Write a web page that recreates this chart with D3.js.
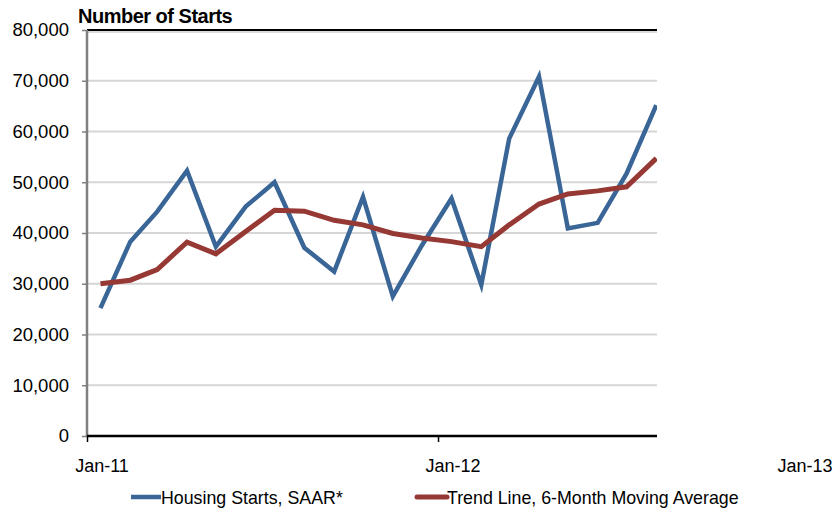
<!DOCTYPE html>
<html>
<head>
<meta charset="utf-8">
<script src="https://cdn.jsdelivr.net/npm/d3@7"></script>
<style>
    body { margin: 0; background: #fff; }
    svg { font-family: "Liberation Sans", Arial, sans-serif; }
</style>
</head>
<body>
<div class="chart"></div>
<script>
// data (mid-month points)
const months = ['2011-01', '2011-02', '2011-03', '2011-04', '2011-05', '2011-06', '2011-07', '2011-08',
    '2011-09', '2011-10', '2011-11', '2011-12', '2012-01', '2012-02', '2012-03', '2012-04',
    '2012-05', '2012-06', '2012-07', '2012-08'];
const housingStarts = [25200, 38300, 44200, 52300, 37300, 45200, 50000, 37100, 32400, 47100,
    27500, 37500, 46800, 29800, 58600, 70800, 40900, 42000, 51700, 65200];
const trendLine = [30000, 30700, 32800, 38200, 35900, 40300, 44500, 44300, 42500, 41600,
    39900, 39000, 38300, 37300, 41600, 45700, 47700, 48300, 49100, 54700];
const seriesNames = ['Housing Starts, SAAR*', 'Trend Line, 6-Month Moving Average'];
const yTicks = [0, 10000, 20000, 30000, 40000, 50000, 60000, 70000, 80000];
const xTicks = ['2011-01-01', '2012-01-01', '2013-01-01'];

const width = 835, height = 513;
const plotLeft = 87, plotTop = 30, plotBottom = 436, plotRight = 657;
const colors = ['#3a6597', '#963834'];

const parse = d3.timeParse('%Y-%m-%d');
const x = d3.scaleTime()
    .domain([parse('2011-01-01'), parse('2013-01-01')])
    .range([plotLeft, 790]);
const y = d3.scaleLinear().domain([0, 80000]).range([plotBottom, plotTop]);

const svg = d3.select('.chart').append('svg')
    .attr('width', width)
    .attr('height', height);

svg.append('defs').append('clipPath').attr('id', 'plot-clip')
    .append('rect')
    .attr('x', plotLeft).attr('y', plotTop - 5)
    .attr('width', plotRight - plotLeft).attr('height', plotBottom - plotTop + 10);

// gridlines
svg.append('g').selectAll('line')
    .data(yTicks.filter(d => d > 0 && d < 80000))
    .join('line')
    .attr('x1', plotLeft).attr('x2', plotRight)
    .attr('y1', d => y(d)).attr('y2', d => y(d))
    .attr('stroke', '#d6d6d6')
    .attr('stroke-width', 2);

// top border
svg.append('line')
    .attr('x1', plotLeft).attr('x2', plotRight)
    .attr('y1', plotTop + 2).attr('y2', plotTop + 2)
    .attr('stroke', '#cfcfcf').attr('stroke-width', 1.5);
svg.append('line')
    .attr('x1', plotLeft).attr('x2', plotRight)
    .attr('y1', plotTop).attr('y2', plotTop)
    .attr('stroke', '#000').attr('stroke-width', 2);

// y axis
const yAxis = svg.append('g')
    .attr('transform', `translate(${plotLeft},0)`)
    .call(d3.axisLeft(y).tickValues(yTicks).tickSize(5).tickPadding(13).tickFormat(d3.format(',')));
yAxis.select('.domain').attr('stroke', '#808080').attr('stroke-width', 2.5)
    .attr('d', `M0,${plotTop}V${plotBottom}`);
yAxis.selectAll('.tick line').attr('stroke', '#808080').attr('stroke-width', 1.5);
yAxis.selectAll('.tick text').attr('font-size', 18.5).attr('fill', '#000');

// x axis
const xAxis = svg.append('g')
    .attr('transform', `translate(0,${plotBottom})`)
    .call(d3.axisBottom(x).tickValues(xTicks.map(parse)).tickSize(6).tickFormat(''));
xAxis.select('.domain').attr('stroke', '#000').attr('stroke-width', 2.5)
    .attr('d', `M${plotLeft},0H${plotRight}`);
xAxis.selectAll('.tick line').attr('stroke', '#000').attr('stroke-width', 1.5)
    .attr('display', d => x(d) > plotRight ? 'none' : null);

svg.append('g').selectAll('text')
    .data(xTicks.map(parse))
    .join('text')
    .attr('x', d => x(d) + 15)
    .attr('y', plotBottom + 36)
    .attr('text-anchor', 'middle')
    .attr('font-size', 18)
    .text(d3.timeFormat('%b-%y'));

// lines
const mid = m => d3.timeDay.offset(d3.timeParse('%Y-%m')(m), 14);
const line = d3.line()
    .x((d, i) => x(mid(months[i])))
    .y(d => y(d));

const plot = svg.append('g').attr('clip-path', 'url(#plot-clip)');
plot.selectAll('path')
    .data([housingStarts, trendLine])
    .join('path')
    .attr('d', line)
    .attr('fill', 'none')
    .attr('stroke', (d, i) => colors[i])
    .attr('stroke-width', (d, i) => i ? 5 : 4.5)
    .attr('stroke-linejoin', 'miter');

// title
svg.append('text')
    .attr('x', 78).attr('y', 23)
    .attr('font-size', 20)
    .attr('font-weight', 'bold')
    .attr('letter-spacing', -0.5)
    .text('Number of Starts');

// legend
const legendX = [131, 417];
const legend = svg.append('g').selectAll('g')
    .data(seriesNames)
    .join('g')
    .attr('transform', (d, i) => `translate(${legendX[i]},497)`);
legend.append('line')
    .attr('x1', 0).attr('x2', 30)
    .attr('stroke', (d, i) => colors[i])
    .attr('stroke-width', (d, i) => i ? 5 : 4.5)
    .attr('stroke-linecap', (d, i) => i ? 'round' : 'butt');
legend.append('text')
    .attr('x', 30).attr('y', 6.5)
    .attr('font-size', 17.8)
    .text(d => d);
</script>
</body>
</html>
